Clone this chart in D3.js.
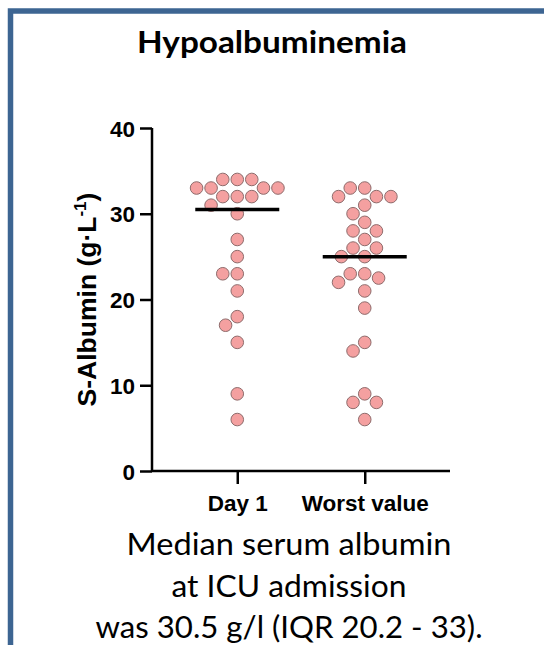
<!DOCTYPE html>
<html>
<head>
<meta charset="utf-8">
<script src="https://cdn.jsdelivr.net/npm/d3@7"></script>
<style>
  html, body { margin: 0; padding: 0; background: #fff; }
  svg { display: block; }
</style>
</head>
<body>
<svg id="chart" width="544" height="645"></svg>
<script>
// ---------- data ----------
const categories = ["Day 1", "Worst value"];
const day1Values = [34, 34, 34, 33, 33, 33, 33, 32, 32, 32, 31, 30, 27, 25, 23, 23, 21, 18, 17, 15, 9, 6];
const worstValues = [33, 33, 32, 32, 32, 31, 30, 29, 28, 28, 27, 26, 26, 25, 25, 23, 23, 22.5, 22, 21, 19, 15, 14, 9, 8, 8, 6];
const yTicks = [0, 10, 20, 30, 40];
const titleText = "Hypoalbuminemia";
const captionLines = ["Median serum albumin", "at ICU admission", "was 30.5 g/l (IQR 20.2 - 33)."];

// ---------- setup ----------
const svg = d3.select("#chart");
const axisX0 = 152, axisX1 = 450, axisY0 = 471, axisY1 = 128;

const y = d3.scaleLinear().domain([0, 40]).range([axisY0, axisY1]);
const x = d3.scalePoint().domain(categories).range([axisX0, axisX1]).padding(0.669);

// frame
svg.append("path")
  .attr("d", `M10.5,650 L10.5,11 L550,11`)
  .attr("fill", "none")
  .attr("stroke", "#3d6592")
  .attr("stroke-width", 5.5);

// title
svg.append("text")
  .attr("x", 272).attr("y", 53)
  .attr("text-anchor", "middle")
  .attr("font-family", "Lato, 'Open Sans', sans-serif")
  .attr("font-weight", "bold")
  .attr("font-size", 30)
  .attr("textLength", 270)
  .attr("lengthAdjust", "spacingAndGlyphs")
  .attr("fill", "#000")
  .text(titleText);

// axes
const yAxis = d3.axisLeft(y).tickValues(yTicks).tickSize(12).tickPadding(5);
const gy = svg.append("g").attr("transform", `translate(${axisX0},0)`).call(yAxis);
gy.select(".domain").attr("d", `M0,${axisY1}V${axisY0}`);

const xAxis = d3.axisBottom(x).tickSize(13).tickPadding(10);
const gx = svg.append("g").attr("transform", `translate(0,${axisY0})`).call(xAxis);
gx.select(".domain").attr("d", `M${axisX0},0H${axisX1}`);

[gy, gx].forEach(g => {
  g.selectAll(".domain, .tick line").attr("stroke", "#000").attr("stroke-width", 2.5);
  g.selectAll("text")
    .attr("fill", "#000")
    .attr("font-family", "'Liberation Sans', Arial, sans-serif")
    .attr("font-weight", "bold")
    .attr("font-size", 22.5);
});
gy.selectAll("text").attr("dy", "0.36em");
gx.selectAll("text").attr("dy", "0.75em");

// y-axis title
const yt = svg.append("text")
  .attr("transform", `translate(96,${(axisY0 + axisY1) / 2 + 0}) rotate(-90)`)
  .attr("text-anchor", "middle")
  .attr("font-family", "'Liberation Sans', Arial, sans-serif")
  .attr("font-weight", "bold")
  .attr("font-size", 26.5)
  .attr("fill", "#000");
yt.append("tspan").text("S-Albumin (g\u00B7L");
yt.append("tspan").attr("dy", -10).attr("font-size", 17).text("-1");
yt.append("tspan").attr("dy", 10).text(")");

// ---------- beeswarm ----------
const R = 6.3, D = 14.5;
function swarm(values, cx) {
  const items = values.map(v => ({ v, py: y(v) })).sort((a, b) => b.v - a.v);
  const placed = [];
  items.forEach(it => {
    const intervals = [];
    placed.forEach(p => {
      const dy = Math.abs(p.py - it.py);
      if (dy < D) {
        const w = Math.sqrt(D * D - dy * dy);
        intervals.push([p.dx - w, p.dx + w]);
      }
    });
    const cands = [0];
    intervals.forEach(iv => cands.push(iv[0], iv[1]));
    const ok = cands.filter(c => intervals.every(iv => c <= iv[0] + 1e-6 || c >= iv[1] - 1e-6));
    ok.sort((a, b) => Math.abs(a) - Math.abs(b) || a - b);
    it.dx = ok[0];
    placed.push(it);
  });
  return items.map(it => ({ v: it.v, cx: cx + it.dx, cy: it.py }));
}

const series = [
  { cat: categories[0], values: day1Values },
  { cat: categories[1], values: worstValues }
];

series.forEach(s => {
  const cx = x(s.cat);
  const pts = swarm(s.values, cx);
  svg.append("g").selectAll("circle")
    .data(pts).join("circle")
    .attr("cx", d => d.cx)
    .attr("cy", d => d.cy)
    .attr("r", R)
    .attr("fill", "#f4a0a0")
    .attr("stroke", "#8e6c6c")
    .attr("stroke-width", 1);
  const med = d3.median(s.values);
  svg.append("line")
    .attr("x1", cx - 42).attr("x2", cx + 42)
    .attr("y1", y(med)).attr("y2", y(med))
    .attr("stroke", "#000")
    .attr("stroke-width", 3.5);
});

// caption
const capWidths = [325, 235, 387];
captionLines.forEach((t, i) => {
  svg.append("text")
    .attr("x", 289).attr("y", 555 + i * 41.5)
    .attr("text-anchor", "middle")
    .attr("font-family", "Lato, 'Open Sans', sans-serif")
    .attr("font-size", 31.5)
    .attr("textLength", capWidths[i])
    .attr("lengthAdjust", "spacingAndGlyphs")
    .attr("fill", "#000")
    .text(t);
});
</script>
</body>
</html>
